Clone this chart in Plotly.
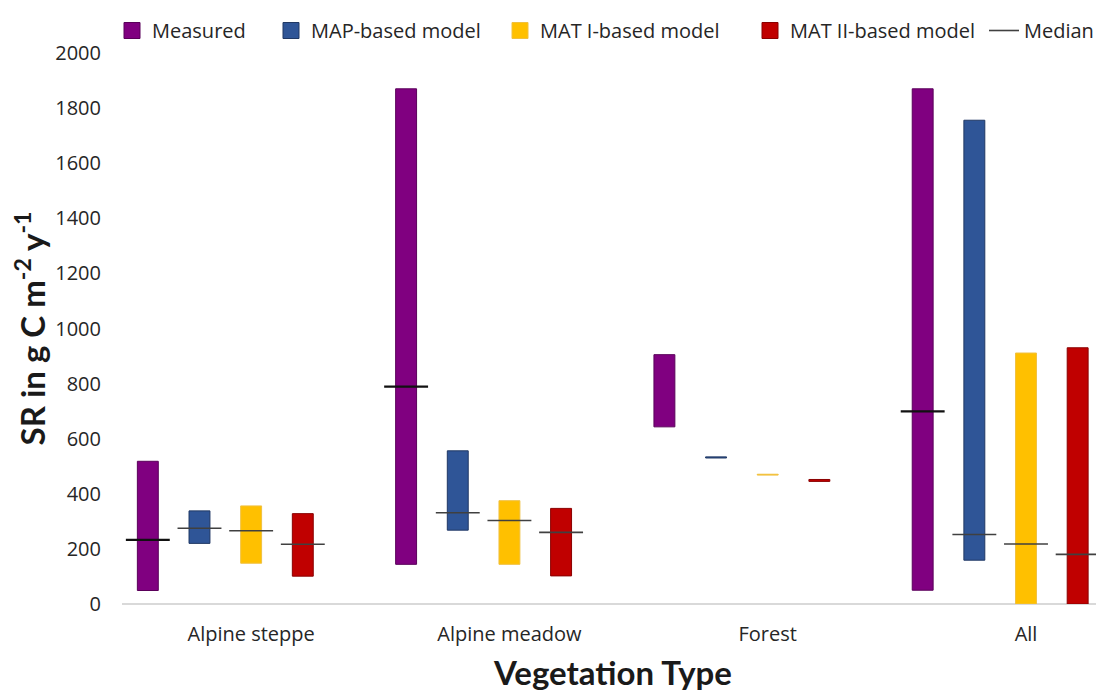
import plotly.graph_objects as go

categories = ["Alpine steppe", "Alpine meadow", "Forest", "All"]
series_names = ["Measured", "MAP-based model", "MAT I-based model", "MAT II-based model"]

measured_min = [49, 144, 643, 50]
measured_max = [518, 1870, 905, 1870]
measured_median = [233, 789, None, 699]

map_min = [220, 268, 530, 159]
map_max = [338, 556, 534, 1756]
map_median = [275, 331, None, 252]

mat1_min = [148, 144, 468, 0]
mat1_max = [356, 375, 471, 911]
mat1_median = [266, 303, None, 218]

mat2_min = [101, 102, 445, 0]
mat2_max = [328, 347, 452, 930]
mat2_median = [217, 260, None, 180]

y_ticks = [0, 200, 400, 600, 800, 1000, 1200, 1400, 1600, 1800, 2000]

colors = ["#800080", "#2F5597", "#FFC000", "#C00000"]
edge_colors = ["#5a005a", "#203864", "#f0c040", "#8a0000"]
median_colors = ["#111111", "#404040", "#404040", "#404040"]
median_widths = [2.2, 1.6, 1.6, 1.6]

mins = [measured_min, map_min, mat1_min, mat2_min]
maxs = [measured_max, map_max, mat1_max, mat2_max]
meds = [measured_median, map_median, mat1_median, mat2_median]

# legend text start positions (px, page coords) in the reference
legend_text_px = [152, 311, 540, 790, 1024]
legend_ids = ["legend", "legend2", "legend3", "legend4", "legend5"]

slot = 0.2
bar_w = 0.081
med_half = 0.085

fig = go.Figure()
xs = list(range(len(categories)))
for k in range(4):
    off = (k - 2) * slot
    fig.add_trace(go.Bar(
        x=[x + off for x in xs],
        y=[hi - lo for lo, hi in zip(mins[k], maxs[k])],
        base=mins[k],
        width=bar_w,
        name=series_names[k],
        showlegend=False,
        marker=dict(color=colors[k], line=dict(color=edge_colors[k], width=1)),
    ))
    # legend entry with a larger square swatch
    fig.add_trace(go.Scatter(
        x=[None], y=[None], mode="markers",
        marker=dict(symbol="square", size=18, color=colors[k],
                    line=dict(color=edge_colors[k], width=1)),
        name=series_names[k], legend=legend_ids[k], showlegend=True,
        hoverinfo="skip",
    ))

for k in range(4):
    off = (k - 2) * slot
    lx, ly = [], []
    for x, m in zip(xs, meds[k]):
        if m is None:
            continue
        lx += [x + off - med_half, x + off + med_half, None]
        ly += [m, m, None]
    fig.add_trace(go.Scatter(
        x=lx, y=ly, mode="lines",
        line=dict(color=median_colors[k], width=median_widths[k]),
        name="Median", showlegend=(k == 1), legend="legend5", hoverinfo="skip",
    ))

PAGE_OFF = 8  # default body margin of the html page
W, H = 1104 - PAGE_OFF, 692 - PAGE_OFF
legend_common = dict(
    orientation="h", xref="container", yref="container",
    y=1 - 3 / H, xanchor="left", yanchor="top",
    font=dict(size=20, color="#262626", family="Open Sans"),
    bgcolor="rgba(0,0,0,0)",
)
layout_legends = {}
for lid, px in zip(legend_ids, legend_text_px):
    layout_legends[lid] = dict(legend_common, x=(px - PAGE_OFF - 40) / W)

fig.update_layout(
    width=W, height=H,
    showlegend=True,
    margin=dict(l=122 - PAGE_OFF, r=0, t=53 - PAGE_OFF, b=692 - 604.5, autoexpand=False),
    plot_bgcolor="white", paper_bgcolor="white",
    barmode="overlay",
    font=dict(family="Open Sans", color="#262626", size=20),
    xaxis=dict(
        range=[-0.5, 3.302],
        tickmode="array", tickvals=xs, ticktext=categories,
        showgrid=False, zeroline=False, showline=False, ticks="",
        ticklabelstandoff=16,
        tickfont=dict(size=20, color="#262626"),
        title=dict(text="<b>Vegetation Type</b>",
                   font=dict(family="Lato", size=33, color="#1a1a1a"), standoff=23),
    ),
    yaxis=dict(
        range=[0, 2000],
        tickmode="array", tickvals=y_ticks,
        showgrid=False, zeroline=True, zerolinecolor="#d9d9d9", zerolinewidth=1.5,
        showline=False, ticks="",
        ticklabelstandoff=20,
        tickfont=dict(size=20, color="#262626"),
        title=dict(text="<b>SR in g C m<sup>-2</sup> y<sup>-1</sup></b>",
                   font=dict(family="Lato", size=33, color="#1a1a1a"), standoff=8),
    ),
    **layout_legends,
)

fig.write_html("out.html")
